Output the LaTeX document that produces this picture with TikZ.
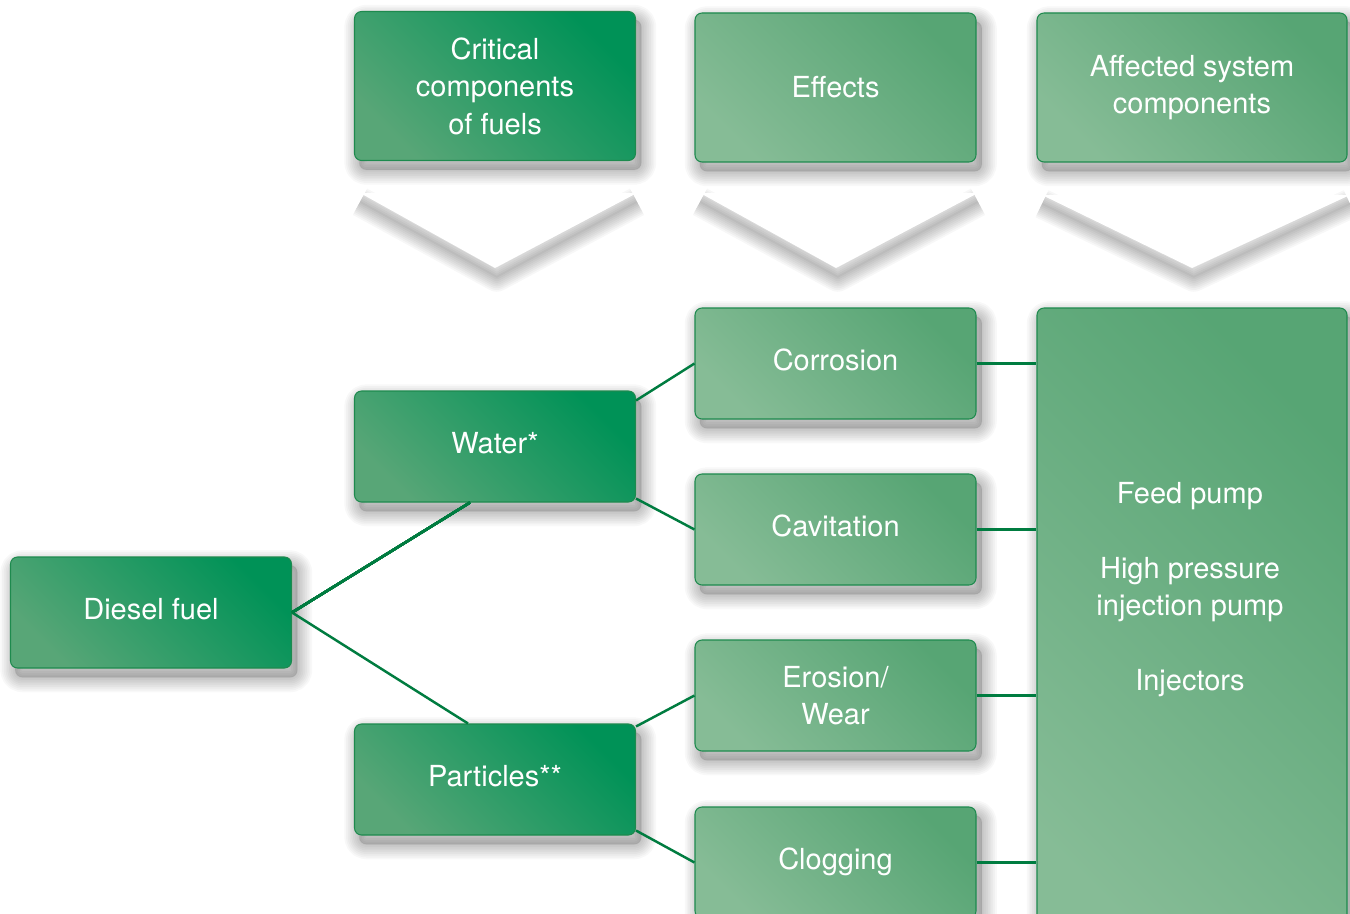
\documentclass[tikz,border=0pt]{standalone}
\usepackage{fontspec}
\setmainfont{TeX Gyre Heros}
\usetikzlibrary{calc}
\definecolor{darkA}{HTML}{58A677}
\definecolor{darkB}{HTML}{009257}
\definecolor{lightA}{HTML}{86BC96}
\definecolor{lightB}{HTML}{57A574}
\definecolor{edgegreen}{HTML}{1E8A4E}
\definecolor{linkgreen}{HTML}{007C40}
\pgfdeclarelayer{back}
\pgfdeclarelayer{shadowlayer}
\pgfsetlayers{back,shadowlayer,main}
\tikzset{
  box/.style={draw=edgegreen, line width=0.6pt, rounded corners=4pt,
    minimum width=5.62cm, minimum height=2.22cm, align=center, text=white,
    font=\fontsize{16.5}{21.3}\selectfont},
  oneline/.style={text height=12pt, text depth=3.6pt},
  darkbox/.style={box, bottom color=darkA, top color=darkB, shading angle=-45},
  lightbox/.style={box, bottom color=lightA, top color=lightB, shading angle=-45},
  link/.style={draw=linkgreen, line width=1.4pt},
  shadowpart/.style={draw=black, line join=round, rounded corners=4pt},
  chev/.style={fill=white, draw=none}
}
% soft shadow of a named node, offset by (#2,#3)
\newcommand\nodeshade[3]{%
  \begin{pgfonlayer}{shadowlayer}
    \fill[black, fill opacity=0.14, rounded corners=4pt]
      ($(#1.south west)+(#2,#3)$) rectangle ($(#1.north east)+(#2,#3)$);
    \foreach \w in {1,3,5,7,9,11,13,15,17}
      \draw[shadowpart, line width=\w pt, draw opacity=0.028]
        ($(#1.south west)+(#2,#3)$) rectangle ($(#1.north east)+(#2,#3)$);
  \end{pgfonlayer}}
% soft shadow below a chevron
\newcommand\chevshade[3]{%
  \begin{pgfonlayer}{shadowlayer}
    \foreach \w in {1,3,5,7,9,11,13,15,17}
      \draw[shadowpart, line width=\w pt, draw opacity=0.03, rounded corners=0pt]
        ($#1+(0,-5pt)$) -- ($#2+(1pt,-5pt)$) -- ($#3+(0,-5pt)$);
  \end{pgfonlayer}}
\begin{document}
\begin{tikzpicture}
\clip (0,0) rectangle (27,-18.28);
\begin{pgfonlayer}{back}
\fill[white] (0,0) rectangle (27,-18.28);
\end{pgfonlayer}
% header row
\node[darkbox, minimum height=2.98cm] (hcrit) at (9.9,-1.72) {Critical\\components\\of fuels};
\node[lightbox, minimum height=2.98cm] (heff) at (16.71,-1.75) {Effects};
\node[lightbox, minimum height=2.98cm, minimum width=6.2cm] (haff) at (23.84,-1.75) {Affected system\\components};
% chevrons
\coordinate (c1a) at (7.2,-3.86);  \coordinate (c1b) at (9.9,-5.36);  \coordinate (c1c) at (12.74,-3.86);
\coordinate (c2a) at (14.0,-3.86); \coordinate (c2b) at (16.72,-5.36); \coordinate (c2c) at (19.56,-3.86);
\coordinate (c3a) at (20.84,-3.9); \coordinate (c3b) at (23.84,-5.36); \coordinate (c3c) at (27.0,-3.9);
\path[chev] (c1a) -- (c1c) -- (c1b) -- cycle;
\path[chev] (c2a) -- (c2c) -- (c2b) -- cycle;
\path[chev] (c3a) -- (c3c) -- (c3b) -- cycle;
\chevshade{(c1a)}{(c1b)}{(c1c)}
\chevshade{(c2a)}{(c2b)}{(c2c)}
\chevshade{(c3a)}{(c3b)}{(c3c)}
% big box
\node[lightbox, minimum width=6.2cm, minimum height=13.4cm] (sys) at (23.84,-12.86) {};
\node[text=white, align=center, font=\fontsize{16.5}{21.3}\selectfont] (systext) at (23.8,-11.79)
  {Feed pump\\[21.3pt]High pressure\\injection pump\\[21.3pt]Injectors};
% source nodes
\node[darkbox, oneline] (diesel) at (3.02,-12.25) {Diesel fuel};
\node[darkbox, oneline] (water) at (9.9,-8.93) {Water*};
\node[darkbox, oneline] (part) at (9.9,-15.59) {Particles**};
% effects
\node[lightbox, oneline] (corr) at (16.71,-7.27) {Corrosion};
\node[lightbox, oneline] (cav) at (16.71,-10.59) {Cavitation};
\node[lightbox] (ero) at (16.71,-13.91) {Erosion/\\Wear};
\node[lightbox, oneline] (clog) at (16.71,-17.25) {Clogging};
% shadows
\foreach \n in {hcrit,heff,haff,sys,diesel,water,part,corr,cav,ero,clog}
  \nodeshade{\n}{3pt}{-5pt}
% connectors
\draw[link] (diesel.east) -- ($(water.south west)+(2.32,0)$);
\draw[link] (diesel.east) -- ($(part.north west)+(2.28,0)$);
\draw[link] ($(water.north east)+(0,-0.2)$) -- (corr.west);
\draw[link] ($(water.south east)+(0,0.08)$) -- (cav.west);
\draw[link] ($(part.north east)+(0,-0.06)$) -- (ero.west);
\draw[link] ($(part.south east)+(0,0.1)$) -- (clog.west);
\draw[link] (corr.east) -- (corr.east -| sys.west);
\draw[link] (cav.east) -- (cav.east -| sys.west);
\draw[link] (ero.east) -- (ero.east -| sys.west);
\draw[link] (clog.east) -- (clog.east -| sys.west);
\end{tikzpicture}
\end{document}
